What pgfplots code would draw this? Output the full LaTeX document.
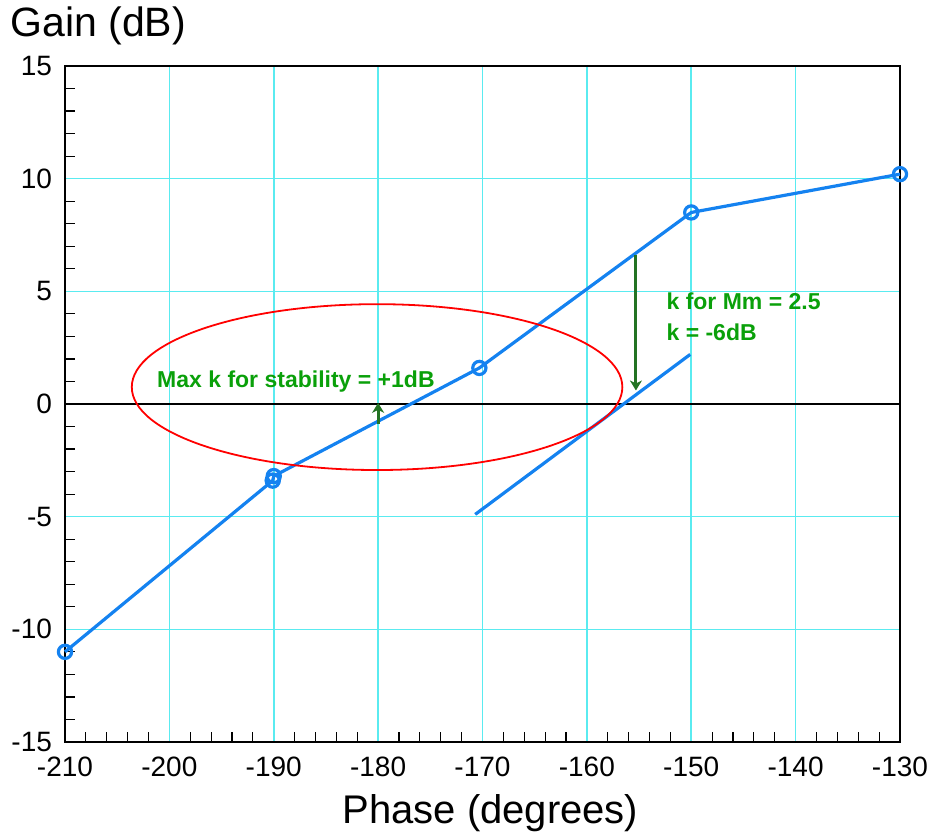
\documentclass[border=0pt]{standalone}
\usepackage{fontspec}
\setmainfont{Liberation Sans}
\usepackage{pgfplots}
\pgfplotsset{compat=1.18}
\usetikzlibrary{arrows.meta}
\definecolor{curveblue}{RGB}{20,130,240}
\definecolor{gridcyan}{RGB}{90,235,240}
\definecolor{txtgreen}{RGB}{10,160,10}
\definecolor{arrgreen}{RGB}{35,115,35}
\begin{document}
\begin{tikzpicture}
\useasboundingbox (-32.5pt,-46pt) rectangle (435pt,371pt);
\begin{axis}[
    scale only axis,
    width=417.5pt, height=338pt,
    xmin=-210, xmax=-130, ymin=-15, ymax=15,
    xtick={-210,-200,...,-130},
    xticklabels={-210,-200,-190,-180,-170,-160,-150,-140,-130},
    ytick={-15,-10,...,15},
    yticklabels={-15,-10,-5,0,5,10,15},
    minor x tick num=4, minor y tick num=4,
    xtick pos=bottom, ytick pos=left,
    tick align=inside,
    major tick length=0pt, minor tick length=5pt,
    minor tick style={black, line width=0.6pt},
    grid=major,
    major grid style={gridcyan, line width=0.8pt},
    axis line style={black, line width=1.2pt},
    ticklabel style={font=\fontsize{14}{16}\selectfont},
    xticklabel style={yshift=-4pt},
    yticklabel style={xshift=-3pt},
    xlabel={Phase (degrees)},
    xlabel style={font=\fontsize{20}{24}\selectfont, yshift=-2pt, xshift=4pt},
    clip=false,
]
% zero dB line
\addplot[black, line width=0.9pt] coordinates {(-210,0) (-130,0)};

% Nichols curve
\addplot[curveblue, line width=1.6pt, mark=o, mark size=3.3pt,
    mark options={line width=1.6pt}] coordinates {
    (-210,-11.0) (-190.1,-3.4) (-190,-3.2) (-170.3,1.6) (-150,8.5) (-130,10.2)
};

% shifted segment
\addplot[curveblue, line width=1.6pt] coordinates {(-170.7,-4.9) (-150.1,2.2)};

% stability ellipse
\draw[red, line width=0.9pt] (axis cs:-180.1,0.75) ellipse [x radius=23.5, y radius=3.68];

% arrows
\draw[arrgreen, line width=1.5pt, -{Stealth[length=5pt,width=6pt,inset=1.5pt]}] (axis cs:-180,-0.9) -- (axis cs:-180,0.05);
\draw[arrgreen, line width=1.5pt, -{Stealth[length=5pt,width=6pt,inset=1.5pt]}] (axis cs:-155.3,6.6) -- (axis cs:-155.3,0.6);

\node[anchor=west, txtgreen, font=\fontsize{11.5}{13}\selectfont\bfseries, inner sep=0pt]
    at (axis cs:-201.2,1.0) {Max k for stability = +1dB};
\node[anchor=west, txtgreen, font=\fontsize{11.5}{13}\selectfont\bfseries, inner sep=0pt]
    at (axis cs:-152.4,4.55) {k for Mm = 2.5};
\node[anchor=west, txtgreen, font=\fontsize{11.5}{13}\selectfont\bfseries, inner sep=0pt]
    at (axis cs:-152.4,3.2) {k = -6dB};

\node[anchor=south west, font=\fontsize{20.5}{24}\selectfont, inner sep=0pt]
    at (rel axis cs:0,1) [xshift=-27.5pt, yshift=10.5pt] {Gain (dB)};
\end{axis}
\end{tikzpicture}
\end{document}
